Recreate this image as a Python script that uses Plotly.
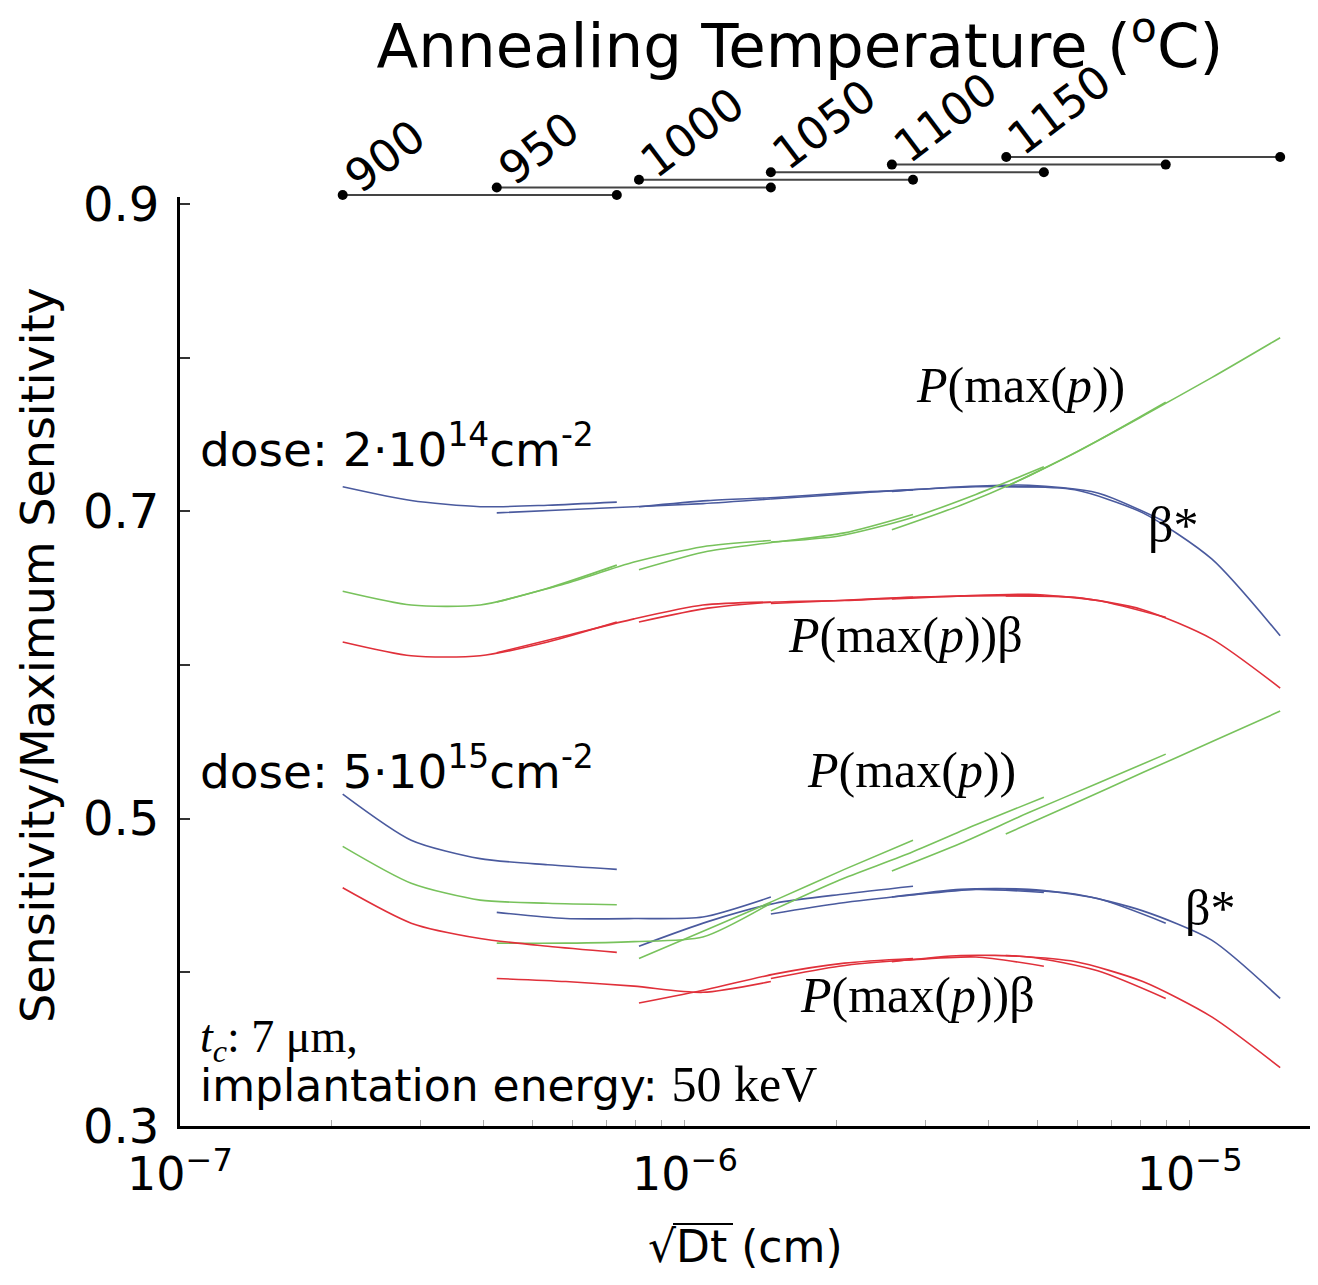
import numpy as np
import plotly.graph_objects as go

# ---------------- data ----------------
temps = [900, 950, 1000, 1050, 1100, 1150]
sqrt_dt_min = [2.10e-7, 4.24e-7, 8.11e-7, 1.48e-6, 2.57e-6, 4.33e-6]
sqrt_dt_max = [7.33e-7, 1.48e-6, 2.83e-6, 5.14e-6, 8.96e-6, 1.51e-5]

# sqrt(Dt) sample points of each annealing-temperature segment
x_900 = [2.10e-7, 2.87e-7, 3.93e-7, 5.35e-7, 7.33e-7]
x_950 = [4.24e-7, 5.81e-7, 7.93e-7, 1.085e-6, 1.48e-6]
x_1000 = [8.11e-7, 1.11e-6, 1.51e-6, 2.07e-6, 2.83e-6]
x_1050 = [1.48e-6, 2.02e-6, 2.76e-6, 3.77e-6, 5.14e-6]
x_1100 = [2.57e-6, 3.52e-6, 4.80e-6, 6.57e-6, 8.96e-6]
x_1150 = [4.32e-6, 5.92e-6, 8.07e-6, 1.105e-5, 1.51e-5]
seg_x = [x_900, x_950, x_1000, x_1050, x_1100, x_1150]

# dose 2e14 cm^-2
beta_d1 = [
    [0.716, 0.707, 0.703, 0.704, 0.706],
    [0.699, 0.701, 0.703, 0.705, 0.708],
    [0.703, 0.707, 0.709, 0.712, 0.714],
    [0.708, 0.711, 0.714, 0.716, 0.716],
    [0.713, 0.716, 0.717, 0.712, 0.693],
    [0.716, 0.714, 0.699, 0.669, 0.619],
]
pmax_d1 = [
    [0.648, 0.639, 0.639, 0.650, 0.665],
    [0.641, 0.653, 0.667, 0.677, 0.681],
    [0.662, 0.674, 0.680, 0.686, 0.698],
    [0.680, 0.684, 0.695, 0.711, 0.729],
    [0.688, 0.704, 0.723, 0.746, 0.771],
    [0.716, 0.738, 0.762, 0.787, 0.813],
]
pbeta_d1 = [
    [0.615, 0.606, 0.606, 0.615, 0.628],
    [0.608, 0.619, 0.630, 0.639, 0.641],
    [0.628, 0.637, 0.641, 0.642, 0.644],
    [0.640, 0.642, 0.644, 0.645, 0.645],
    [0.643, 0.645, 0.646, 0.642, 0.631],
    [0.645, 0.644, 0.636, 0.617, 0.585],
]
# dose 5e15 cm^-2
beta_d2 = [
    [0.516, 0.486, 0.474, 0.470, 0.467],
    [0.439, 0.435, 0.435, 0.436, 0.449],
    [0.417, 0.433, 0.445, 0.451, 0.456],
    [0.438, 0.445, 0.450, 0.454, 0.452],
    [0.449, 0.454, 0.454, 0.448, 0.432],
    [0.454, 0.451, 0.440, 0.421, 0.383],
]
pmax_d2 = [
    [0.482, 0.458, 0.447, 0.445, 0.444],
    [0.419, 0.419, 0.420, 0.423, 0.445],
    [0.409, 0.428, 0.447, 0.467, 0.486],
    [0.440, 0.460, 0.477, 0.496, 0.514],
    [0.466, 0.484, 0.504, 0.523, 0.542],
    [0.490, 0.510, 0.530, 0.550, 0.570],
]
pbeta_d2 = [
    [0.455, 0.432, 0.422, 0.417, 0.413],
    [0.396, 0.394, 0.391, 0.387, 0.394],
    [0.380, 0.389, 0.399, 0.406, 0.409],
    [0.396, 0.404, 0.408, 0.410, 0.404],
    [0.407, 0.411, 0.410, 0.401, 0.383],
    [0.411, 0.407, 0.394, 0.371, 0.338],
]

x_tick_vals = [1e-7, 1e-6, 1e-5]
x_tick_text = ["10<sup>−7</sup>", "10<sup>−6</sup>", "10<sup>−5</sup>"]
y_tick_vals = [0.3, 0.4, 0.5, 0.6, 0.7, 0.8, 0.9]
y_tick_text = ["0.3", "", "0.5", "", "0.7", "", "0.9"]

BLUE = "#4a5a9e"
GREEN = "#78c25c"
RED = "#e0303a"

SANS = "DejaVu Sans, Liberation Sans, Arial, sans-serif"
SERIF = "Liberation Serif, Times New Roman, serif"

# page geometry (the page body adds an 8px margin)
OFF = 8
W, H = 1318 - OFF, 1285 - OFF
PX_L, PX_R, PX_T, PX_B = 180, 1310, 140, 1126   # page px of the paper area
L = PX_L - OFF
R = W - (PX_R - OFF)
T = PX_T - OFF
B = H - (PX_B - OFF)
ph = PX_B - PX_T
ydom_top = (PX_B - 197) / ph


def px_x(px):
    return (px - PX_L) / (PX_R - PX_L)


def px_y(py):
    return (PX_B - py) / ph


fig = go.Figure()

for series, color in [(beta_d1, BLUE), (pmax_d1, GREEN), (pbeta_d1, RED),
                      (beta_d2, BLUE), (pmax_d2, GREEN), (pbeta_d2, RED)]:
    for xs, ys in zip(seg_x, series):
        fig.add_trace(go.Scatter(
            x=xs, y=ys, mode="lines",
            line=dict(color=color, width=1.6, shape="spline", smoothing=0.7),
            showlegend=False, hoverinfo="skip"))

# minor x ticks as a tick list (labels only at the decades)
minor_vals = [m * 10.0 ** e for e in (-7, -6, -5) for m in range(1, 10)
              if m * 10.0 ** e <= 1.7e-5]
tick_text_all = [x_tick_text[x_tick_vals.index(v)] if v in x_tick_vals else ""
                 for v in minor_vals]

# annealing-temperature bars (top panel)
for i, t in enumerate(temps):
    fig.add_trace(go.Scatter(
        x=[sqrt_dt_min[i], sqrt_dt_max[i]], y=[i, i], yaxis="y2",
        mode="lines+markers",
        line=dict(color="#444444", width=2),
        marker=dict(color="black", size=10),
        cliponaxis=False, showlegend=False, hoverinfo="skip"))
    fig.add_annotation(
        x=np.log10(sqrt_dt_min[i]), y=i, xref="x", yref="y2",
        text=str(t), textangle=-37, showarrow=False,
        xanchor="left", yanchor="bottom", xshift=-11, yshift=-11,
        font=dict(family=SANS, size=45, color="black"))

fig.update_layout(
    width=W, height=H,
    margin=dict(l=L, r=R, t=T, b=B),
    paper_bgcolor="white", plot_bgcolor="white",
    title=dict(text="Annealing Temperature (<sup>o</sup>C)",
               x=(800 - OFF) / W, xref="container", xanchor="center",
               y=1 - (46 - OFF) / H, yref="container", yanchor="middle",
               font=dict(family=SANS, size=61, color="black")),
    xaxis=dict(type="log", range=[-7, np.log10(1.73e-5)],
               showline=True, linecolor="black", linewidth=3,
               showgrid=False, zeroline=False,
               tickvals=minor_vals, ticktext=tick_text_all,
               ticks="inside", ticklen=6, tickcolor="#aaaaaa", tickwidth=1,
               tickfont=dict(family=SANS, size=46, color="black"),
               ticklabelstandoff=6,
               anchor="y"),
    yaxis=dict(domain=[0, ydom_top], range=[0.3, 0.9 + 7 / 1535],
               showline=True, linecolor="black", linewidth=3,
               showgrid=False, zeroline=False,
               tickvals=y_tick_vals, ticktext=y_tick_text,
               ticks="inside", ticklen=10, tickwidth=1.5, tickcolor="#333",
               ticklabelstandoff=8,
               tickfont=dict(family=SANS, size=48, color="black"),
               anchor="x"),
    yaxis2=dict(domain=[ydom_top, 1], range=[-0.26, 7.24],
                visible=False, anchor="x"),
)


def ann(text, x, y, size, family=SANS, xanchor="center", yanchor="middle",
        angle=0):
    fig.add_annotation(text=text, x=x, y=y, xref="paper", yref="paper",
                       showarrow=False, xanchor=xanchor, yanchor=yanchor,
                       textangle=angle,
                       font=dict(family=family, size=size, color="black"))


# axis titles
ann("Sensitivity/Maximum Sensitivity", px_x(38), px_y(655), 46, angle=-90)
ann("√Dt (cm)", px_x(745), px_y(1246), 44)
fig.add_shape(type="line", xref="paper", yref="paper",
              x0=px_x(673), x1=px_x(733), y0=px_y(1224), y1=px_y(1224),
              line=dict(color="black", width=2))

# dose labels
ann("dose: 2·10<sup>14</sup>cm<sup>-2</sup>", px_x(198), px_y(446), 47,
    xanchor="left")
ann("dose: 5·10<sup>15</sup>cm<sup>-2</sup>", px_x(198), px_y(768), 47,
    xanchor="left")

# curve labels (serif)
lab_p = "<i>P</i>(max(<i>p</i>))"
lab_pb = "<i>P</i>(max(<i>p</i>))β"
ann(lab_p, px_x(1020), px_y(385), 50, family=SERIF)
ann("β*", px_x(1173), px_y(525), 50, family=SERIF)
ann(lab_pb, px_x(905), px_y(635), 50, family=SERIF)
ann(lab_p, px_x(911), px_y(770), 50, family=SERIF)
ann("β*", px_x(1210), px_y(908), 50, family=SERIF)
ann(lab_pb, px_x(918), px_y(995), 50, family=SERIF)

# parameters
ann("<i>t<sub>c</sub></i>: 7 μm,", px_x(198), px_y(1040), 46,
    family=SERIF, xanchor="left")
ann("implantation energy: <span style='font-family:Liberation Serif, serif;font-size:50px'>50 keV</span>",
    px_x(198), px_y(1084), 44, xanchor="left")

fig.write_html("out.html")
